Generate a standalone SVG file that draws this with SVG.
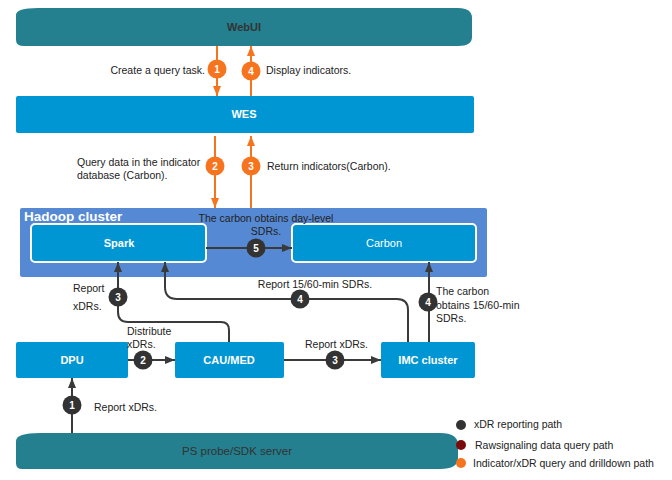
<svg xmlns="http://www.w3.org/2000/svg" width="672" height="480" viewBox="0 0 672 480">
<style>
text{font-family:"Liberation Sans",Arial,sans-serif;}
.lbl{font-size:10.5px;fill:#222;}
.nt{font-size:11px;fill:#fff;font-weight:bold;text-anchor:middle;}
.dk{font-size:11px;fill:#333;text-anchor:middle;}
.node{fill:#0096d4;}
.inner{fill:#0096d4;stroke:#fff;stroke-width:2;}
.teal{fill:#247f8f;}
.or{stroke:#f7741e;stroke-width:2;fill:none;}
.gr{stroke:#3a3a3a;stroke-width:2;fill:none;}
.num{font-size:10px;font-weight:bold;fill:#fff;text-anchor:middle;}
.leg{font-size:10.5px;fill:#222;}
</style>
<defs>
<marker id="ao" viewBox="0 0 10 10" refX="10" refY="5" markerWidth="5" markerHeight="5" orient="auto" markerUnits="userSpaceOnUse" style="overflow:visible">
<path d="M0,0 L10,5 L0,10 Z" fill="#f7741e" transform="scale(1)"/>
</marker>
<marker id="ag" viewBox="0 0 10 10" refX="10" refY="5" markerWidth="10" markerHeight="10" orient="auto" markerUnits="userSpaceOnUse">
<path d="M0,1 L10,5 L0,9 Z" fill="#3a3a3a"/>
</marker>
<marker id="ao2" viewBox="0 0 10 10" refX="10" refY="5" markerWidth="10" markerHeight="10" orient="auto" markerUnits="userSpaceOnUse">
<path d="M0,1 L10,5 L0,9 Z" fill="#f7741e"/>
</marker>
</defs>

<g id="hadoop">
<rect x="20" y="208" width="467" height="69" rx="2" fill="#5689d3"/>
<text x="24" y="221" style="font-size:13.5px;font-weight:bold;fill:#fff">Hadoop cluster</text>
</g>

<g id="webui">
<path class="teal" d="M16,15 Q16,8 38,8 L458,8 Q472,8 472,18 L472,37 Q472,46 458,46 L24,46 Q16,46 16,40 Z"/>
<text class="dk" x="244" y="31" style="font-weight:bold">WebUI</text>
</g>
<g id="wes">
<rect class="node" x="16" y="96" width="458" height="37" rx="2"/>
<text class="nt" x="244" y="118">WES</text>
</g>
<g id="spark">
<rect class="inner" x="31" y="224" width="175" height="38" rx="4"/>
<text class="nt" x="119" y="247">Spark</text>
</g>
<g id="carbon">
<rect class="inner" x="292" y="224" width="184" height="38" rx="4"/>
<text class="nt" x="384" y="247" style="font-weight:normal">Carbon</text>
</g>
<g id="dpu">
<rect class="node" x="16" y="342" width="112" height="36" rx="2"/>
<text class="nt" x="72" y="364">DPU</text>
</g>
<g id="caumed">
<rect class="node" x="175" y="342" width="109" height="36" rx="2"/>
<text class="nt" x="229" y="364">CAU/MED</text>
</g>
<g id="imc">
<rect class="node" x="381" y="342" width="94" height="36" rx="2"/>
<text class="nt" x="428" y="364">IMC cluster</text>
</g>
<g id="ps">
<path class="teal" d="M16,441 Q16,433 40,433 L440,433 Q458,433 458,445 L458,458 Q458,469 440,469 L22,469 Q16,469 16,463 Z"/>
<text class="dk" x="237" y="455" style="font-size:11.5px">PS probe/SDK server</text>
</g>

<g id="connectors">
<line class="or" x1="217" y1="46" x2="217" y2="96" marker-end="url(#ao2)"/>
<line class="or" x1="251" y1="96" x2="251" y2="46" marker-end="url(#ao2)"/>
<line class="or" x1="215" y1="136" x2="215" y2="208" marker-end="url(#ao2)"/>
<line class="or" x1="251" y1="208" x2="251" y2="136" marker-end="url(#ao2)"/>
<line class="gr" x1="206" y1="248" x2="292" y2="248" marker-end="url(#ag)"/>
<path class="gr" d="M229,342 L229,330 Q229,322 221,322 L128,322 Q118,322 118,312 L118,262" marker-end="url(#ag)"/>
<path class="gr" d="M408,342 L408,310 Q408,299 397,299 L177,299 Q165,299 165,287 L165,262" marker-end="url(#ag)"/>
<line class="gr" x1="429" y1="342" x2="429" y2="262" marker-end="url(#ag)"/>
<line class="gr" x1="128" y1="360" x2="175" y2="360" marker-end="url(#ag)"/>
<line class="gr" x1="284" y1="360" x2="381" y2="360" marker-end="url(#ag)"/>
<line class="gr" x1="72" y1="433" x2="72" y2="378" marker-end="url(#ag)"/>

<circle cx="217" cy="69" r="9.5" fill="#f7741e"/><text class="num" x="217" y="73">1</text>
<circle cx="251" cy="71" r="9.5" fill="#f7741e"/><text class="num" x="251" y="75">4</text>
<circle cx="215" cy="166" r="9.5" fill="#f7741e"/><text class="num" x="215" y="170">2</text>
<circle cx="251" cy="166" r="9.5" fill="#f7741e"/><text class="num" x="251" y="170">3</text>
<circle cx="256" cy="248" r="9.5" fill="#333"/><text class="num" x="256" y="252">5</text>
<circle cx="118" cy="297" r="9.5" fill="#333"/><text class="num" x="118" y="301">3</text>
<circle cx="300" cy="299" r="9.5" fill="#333"/><text class="num" x="300" y="303">4</text>
<circle cx="428" cy="302" r="9.5" fill="#333"/><text class="num" x="428" y="306">4</text>
<circle cx="143" cy="360" r="9.5" fill="#333"/><text class="num" x="143" y="364">2</text>
<circle cx="335" cy="360" r="9.5" fill="#333"/><text class="num" x="335" y="364">3</text>
<circle cx="72" cy="405" r="9.5" fill="#333"/><text class="num" x="72" y="409">1</text>

<text class="lbl" x="205" y="74" text-anchor="end">Create a query task.</text>
<text class="lbl" x="266" y="74">Display indicators.</text>
<text class="lbl" x="77" y="166">Query data in the indicator</text>
<text class="lbl" x="77" y="179">database (Carbon).</text>
<text class="lbl" x="267" y="170">Return indicators(Carbon).</text>
<text class="lbl" x="266" y="222" text-anchor="middle">The carbon obtains day-level</text>
<text class="lbl" x="266" y="235" text-anchor="middle">SDRs.</text>
<text class="lbl" x="73" y="292">Report</text>
<text class="lbl" x="73" y="310">xDRs.</text>
<text class="lbl" x="315" y="288" text-anchor="middle">Report 15/60-min SDRs.</text>
<text class="lbl" x="436" y="295">The carbon</text>
<text class="lbl" x="436" y="309">obtains 15/60-min</text>
<text class="lbl" x="436" y="322">SDRs.</text>
<text class="lbl" x="127" y="335">Distribute</text>
<text class="lbl" x="127" y="348">xDRs.</text>
<text class="lbl" x="305" y="348">Report xDRs.</text>
<text class="lbl" x="94" y="411">Report xDRs.</text>
</g>

<g id="legend">
<circle cx="461" cy="425" r="5" fill="#333"/>
<text class="leg" x="474" y="428">xDR reporting path</text>
<circle cx="461" cy="445" r="5" fill="#7b0a0a"/>
<text class="leg" x="475" y="449">Rawsignaling data query path</text>
<circle cx="461" cy="463" r="5" fill="#f7741e"/>
<text class="leg" x="473" y="467">Indicator/xDR query and drilldown path</text>
</g>
</svg>
